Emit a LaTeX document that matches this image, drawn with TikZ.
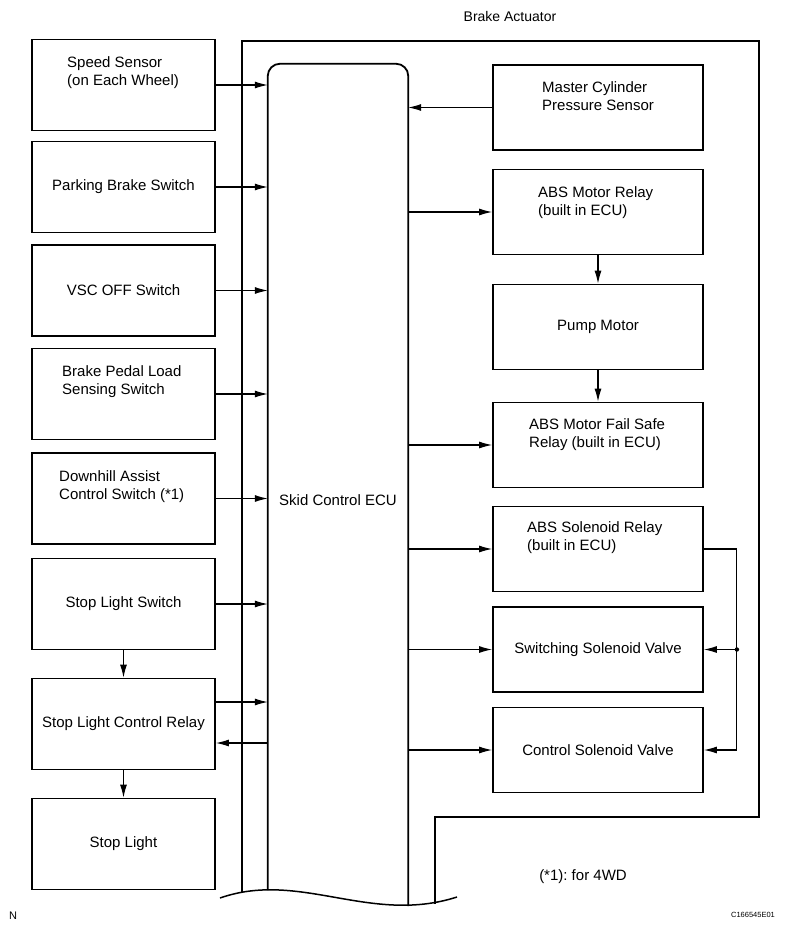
\documentclass[tikz,border=0pt]{standalone}
\usepackage{fontspec}
\setmainfont{Liberation Sans}
\usepackage{tikz}
\usetikzlibrary{arrows.meta,positioning,calc}
\frenchspacing
\tikzset{
  blk/.style={draw, line width=1.8pt, minimum width=183pt, minimum height=91pt, inner sep=0pt},
  rblk/.style={blk, minimum width=210pt, minimum height=85pt},
  lbl/.style={align=left, inner sep=0pt, anchor=north west},
  sig/.style={line width=1.1pt, -{Latex[length=13pt,width=7pt]}},
  edge/.style={line width=1.8pt}
}

\begin{document}
\begin{tikzpicture}[x=1pt, y=-1pt, font=\fontsize{15}{18}\selectfont]
  \useasboundingbox (0,0) rectangle (794,931);
  \node (act) at (510,16) {\fontsize{14}{16}\selectfont Brake Actuator};
  \draw[edge] (242,892) -- (242,41) -- (759,41) -- (759,817) -- (435,817) -- (435,904);
  \node[minimum width=140pt, minimum height=826pt, inner sep=0pt] (ecu) at (338,477) {};
  \draw[edge, rounded corners=12pt] (ecu.south west) -- (ecu.north west) -- (ecu.north east)
    -- ([yshift=-16pt]ecu.south east);
  \node (ecu-t) at (338,500) {Skid Control ECU};
  \draw[line width=1.5pt] (220,898) .. controls (300,870) and (370,925) .. (457,897);

  \node[blk] (ss) at (123.5,85) {};
  \node[lbl] (ss-t) at (67,56) {Speed Sensor\\(on Each Wheel)};
  \node[blk] (pb) at (123.5,187) {Parking Brake Switch};
  \node[blk] (vsc) at (123.5,290.5) {VSC OFF Switch};
  \node[blk] (bp) at (123.5,394) {};
  \node[lbl] (bp-t) at (62,365) {Brake Pedal Load\\Sensing Switch};
  \node[blk] (dh) at (123.5,498.5) {};
  \node[lbl] (dh-t) at (59,470) {Downhill Assist\\Control Switch (*1)};
  \node[blk] (sls) at (123.5,604) {Stop Light Switch};
  \node[blk] (slr) at (123.5,724) {Stop Light Control Relay};
  \node[blk] (sl) at (123.5,844) {Stop Light};

  \node[rblk] (mc) at (598,107.5) {};
  \node[lbl] (mc-t) at (542,81) {Master Cylinder\\Pressure Sensor};
  \node[rblk] (mr) at (598,212) {};
  \node[lbl] (mr-t) at (538,186) {ABS Motor Relay\\(built in ECU)};
  \node[rblk] (pm) at (598,327) {Pump Motor};
  \node[rblk] (fs) at (598,445) {};
  \node[lbl] (fs-t) at (529,418) {ABS Motor Fail Safe\\Relay (built in ECU)};
  \node[rblk] (sr) at (598,549) {};
  \node[lbl] (sr-t) at (527,521) {ABS Solenoid Relay\\(built in ECU)};
  \node[rblk] (sv) at (598,649.5) {Switching Solenoid Valve};
  \node[rblk] (cv) at (598,750) {Control Solenoid Valve};

  \foreach \n in {ss,pb,vsc,bp,dh,sls}
    \draw[sig] (\n.east) -- (\n.east -| ecu.west);
  \coordinate (slr-o) at ($(slr.east)+(0,-22)$);
  \coordinate (slr-i) at ($(slr.east)+(0,19)$);
  \draw[sig] (slr-o) -- (slr-o -| ecu.west);
  \draw[sig] (slr-i -| ecu.west) -- (slr-i);
  \draw[sig] (sls.south) -- (slr.north);
  \draw[sig] (slr.south) -- (sl.north);

  \draw[sig] (mc.west) -- (mc.west -| ecu.east);
  \foreach \n in {mr,fs,sr,sv,cv}
    \draw[sig] (\n.west -| ecu.east) -- (\n.west);
  \draw[sig] (mr.south) -- (pm.north);
  \draw[sig] (pm.south) -- (fs.north);
  \coordinate (jn) at ($(sr.east)+(33,0)$);
  \draw[sig] (sr.east) -- (jn) |- (cv.east);
  \draw[sig] (sv.east -| jn) -- (sv.east);
  \fill (sv.east -| jn) circle (2.2pt);

  \node (note) at (583,877) {(*1): for 4WD};
  \node (n-mark) at (13,916) {\fontsize{11}{12}\selectfont N};
  \node (fig-id) at (753,915) {\fontsize{7.5}{8}\selectfont C166545E01};
\end{tikzpicture}
\end{document}
